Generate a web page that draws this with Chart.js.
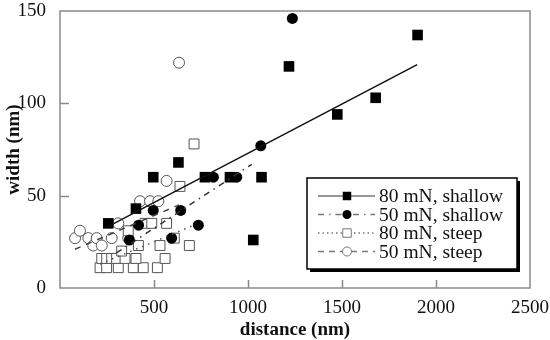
<!DOCTYPE html>
<html>
<head>
<meta charset="utf-8">
<script src="https://cdn.jsdelivr.net/npm/chart.js@4"></script>
<style>
  html, body { margin: 0; padding: 0; background: #fff; }
  #wrap { width: 550px; height: 340px; }
</style>
</head>
<body>
<div id="wrap"><canvas id="chart" width="550" height="340"></canvas></div>
<script>
// measured points, distance (nm) vs width (nm)
const shallow80X = [257, 404, 496, 630, 771, 904, 1028, 1072, 1218, 1475, 1679, 1902];
const shallow80Y = [35, 43, 60, 68, 60, 60, 26, 60, 120, 94, 103, 137];

const shallow50X = [369, 418, 496, 594, 642, 736, 816, 940, 1068, 1236];
const shallow50Y = [26, 34, 42, 27, 42, 34, 60, 60, 77, 146];

const steep80X = [213, 248, 310, 390, 443, 518, 222, 248, 275, 301, 346, 404, 559, 328, 417, 532, 688, 363, 608, 452, 488, 567, 638, 713];
const steep80Y = [11, 11, 11, 11, 11, 11, 16, 16, 16, 16, 16, 16, 16, 20, 23, 23, 23, 31, 27, 35, 35, 35, 55, 78];

const steep50X = [80, 106, 151, 177, 195, 222, 275, 310, 363, 426, 479, 523, 567, 633];
const steep50Y = [27, 31, 27, 23, 27, 23, 27, 35, 27, 47, 47, 47, 58, 122];

// fitted lines (end points)
const fit80sX = [250, 1900];
const fit80sY = [33, 121];
const fit50sX = [300, 1020];
const fit50sY = [19, 67];
const fit80stX = [213, 713];
const fit80stY = [13, 34];
const fit50stX = [80, 633];
const fit50stY = [21, 45];

const seriesLabels = ['80 mN, shallow', '50 mN, shallow', '80 mN, steep', '50 mN, steep'];
const xTicks = [0, 500, 1000, 1500, 2000, 2500];
const yTicks = [0, 50, 100, 150];

const toPoints = (xs, ys) => xs.map((x, i) => ({ x: x, y: ys[i] }));

const serif = "'Liberation Serif', 'DejaVu Serif', serif";

const markerSets = [
  { label: seriesLabels[0], data: toPoints(shallow80X, shallow80Y), pointStyle: 'rect', pointRadius: 7.5,
    backgroundColor: '#000', borderColor: '#000', borderWidth: 0 },
  { label: seriesLabels[1], data: toPoints(shallow50X, shallow50Y), pointStyle: 'circle', pointRadius: 5.5,
    backgroundColor: '#000', borderColor: '#000', borderWidth: 0 },
  { label: seriesLabels[2], data: toPoints(steep80X, steep80Y), pointStyle: 'rect', pointRadius: 7,
    backgroundColor: '#fff', borderColor: '#555', borderWidth: 1 },
  { label: seriesLabels[3], data: toPoints(steep50X, steep50Y), pointStyle: 'circle', pointRadius: 5.5,
    backgroundColor: '#fff', borderColor: '#555', borderWidth: 1 },
];

const lineSets = [
  { label: 'fit1', data: toPoints(fit80sX, fit80sY), borderColor: '#111', borderWidth: 1.5, borderDash: [] },
  { label: 'fit2', data: toPoints(fit50sX, fit50sY), borderColor: '#333', borderWidth: 1.5, borderDash: [6, 5, 1.5, 5] },
  { label: 'fit3', data: toPoints(fit80stX, fit80stY), borderColor: '#555', borderWidth: 1.5, borderDash: [1.5, 5] },
  { label: 'fit4', data: toPoints(fit50stX, fit50stY), borderColor: '#444', borderWidth: 1.5, borderDash: [6, 6] },
].map((d) => Object.assign(d, { showLine: true, pointRadius: 0, fill: false }));

// frame round the plot and the inward tick marks
const framePlugin = {
  id: 'frame',
  afterDatasetsDraw(chart) {
    const { ctx, chartArea: a, scales } = chart;
    ctx.save();
    ctx.strokeStyle = '#8a8a8a';
    ctx.lineWidth = 1.5;
    ctx.strokeRect(a.left, a.top, a.right - a.left, a.bottom - a.top);
    ctx.beginPath();
    xTicks.slice(1, -1).forEach((v) => {
      const px = Math.round(scales.x.getPixelForValue(v)) + 0.5;
      ctx.moveTo(px, a.bottom);
      ctx.lineTo(px, a.bottom - 8);
    });
    yTicks.slice(1, -1).forEach((v) => {
      const py = Math.round(scales.y.getPixelForValue(v)) + 0.5;
      ctx.moveTo(a.left, py);
      ctx.lineTo(a.left + 9, py);
    });
    ctx.stroke();
    ctx.restore();
  },
};

// legend box with line sample and marker, like the original figure
const legendPlugin = {
  id: 'boxLegend',
  afterDraw(chart) {
    const ctx = chart.ctx;
    const bx = 307, by = 178, bw = 210, bh = 91;
    ctx.save();
    ctx.fillStyle = '#000';
    ctx.fillRect(bx + 3, by + 3, bw, bh);
    ctx.fillStyle = '#fff';
    ctx.fillRect(bx, by, bw, bh);
    ctx.strokeStyle = '#000';
    ctx.lineWidth = 1.5;
    ctx.strokeRect(bx, by, bw, bh);

    const rows = [196, 214.5, 233, 251.5];
    const dashes = [[], [6, 5, 1.5, 5], [1.5, 3], [6, 5]];
    markerSets.forEach((ds, i) => {
      const y = rows[i];
      ctx.strokeStyle = '#777';
      ctx.lineWidth = 1.5;
      ctx.setLineDash(dashes[i]);
      ctx.beginPath();
      ctx.moveTo(318, y);
      ctx.lineTo(375, y);
      ctx.stroke();
      ctx.setLineDash([]);
      ctx.fillStyle = ds.backgroundColor;
      ctx.strokeStyle = i < 2 ? '#000' : '#777';
      ctx.lineWidth = 1;
      Chart.helpers.drawPoint(ctx, {
        pointStyle: ds.pointStyle,
        radius: ds.pointStyle === 'rect' ? 6 : 4.5,
        borderWidth: i < 2 ? 0 : 1,
        rotation: 0,
      }, 347, y);
      ctx.fillStyle = '#111';
      ctx.font = '19.5px ' + serif;
      ctx.textBaseline = 'middle';
      ctx.textAlign = 'left';
      ctx.fillText(ds.label, 379, y + 1);
    });
    ctx.restore();
  },
};

new Chart(document.getElementById('chart'), {
  type: 'scatter',
  data: { datasets: [...lineSets, ...markerSets] },
  options: {
    responsive: false,
    animation: false,
    layout: { padding: { top: 11, right: 20, left: 0, bottom: 0 } },
    plugins: { legend: { display: false }, tooltip: { enabled: false } },
    scales: {
      x: {
        type: 'linear',
        min: 0,
        max: 2500,
        afterBuildTicks: (scale) => { scale.ticks = xTicks.map((v) => ({ value: v })); },
        afterFit: (scale) => {
          scale.height = 52;
          scale.paddingLeft = 0;
          scale.paddingRight = 0;
        },
        grid: { display: false },
        border: { display: false },
        ticks: {
          color: '#111',
          padding: 1,
          font: { family: serif, size: 19 },
          callback: (v) => (v === 0 ? '' : v),
        },
        title: {
          display: true,
          text: 'distance (nm)',
          color: '#111',
          font: { family: serif, size: 19, weight: 'bold', lineHeight: 1 },
          padding: 0,
        },
      },
      y: {
        type: 'linear',
        min: 0,
        max: 150,
        afterBuildTicks: (scale) => { scale.ticks = yTicks.map((v) => ({ value: v })); },
        afterFit: (scale) => {
          scale.width = 60;
          scale.paddingTop = 0;
          scale.paddingBottom = 0;
        },
        grid: { display: false },
        border: { display: false },
        ticks: {
          color: '#111',
          padding: 6,
          font: { family: serif, size: 19 },
        },
        title: {
          display: true,
          text: 'width (nm)',
          color: '#111',
          font: { family: serif, size: 19, weight: 'bold', lineHeight: 1 },
          padding: { top: 5, bottom: 0 },
        },
      },
    },
  },
  plugins: [framePlugin, legendPlugin],
});
</script>
</body>
</html>
